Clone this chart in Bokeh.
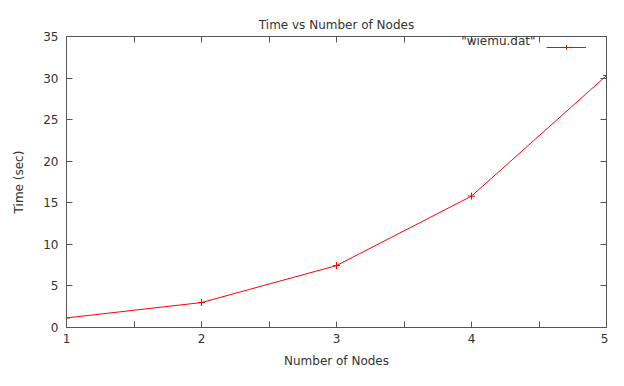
from bokeh.plotting import figure
from bokeh.models import (LinearAxis, FixedTicker, Range1d, Legend, LegendItem, Label,
                          CustomJSTickFormatter)
from bokeh.embed import file_html
from bokeh.resources import INLINE

nodes = [1, 2, 3, 4, 5]
times = [1.15, 3.0, 7.45, 15.8, 30.3]
x_ticks = [1, 2, 3, 4, 5]
x_minor = [1.5, 2.5, 3.5, 4.5]
y_ticks = [0, 5, 10, 15, 20, 25, 30, 35]

FONT = "DejaVu Sans"
TXT = "#333333"
AX = "#555555"

W, H = 540, 294
p = figure(width=608, height=370, output_backend="svg", toolbar_location=None,
           x_range=Range1d(1, 5), y_range=Range1d(0, 35),
           min_border_left=66, min_border_right=2, min_border_top=36, min_border_bottom=40,
           x_axis_location=None, y_axis_location=None)
p.title.text = "Time vs Number of Nodes"
p.title.align = "center"
p.title.text_font = FONT
p.title.text_font_style = "normal"
p.title.text_font_size = "12px"
p.title.text_color = TXT

p.xgrid.visible = False
p.ygrid.visible = False
p.outline_line_color = AX
p.outline_line_width = 1

blank = CustomJSTickFormatter(code="return ''")

def style(ax, labels=True):
    ax.axis_line_color = AX
    ax.major_tick_line_color = AX
    ax.minor_tick_line_color = AX
    ax.major_tick_in = 6
    ax.major_tick_out = 0
    ax.minor_tick_in = 6
    ax.minor_tick_out = 0
    ax.major_label_text_font = FONT
    ax.major_label_text_font_size = "12px"
    ax.major_label_text_color = TXT
    ax.axis_label_text_font = FONT
    ax.axis_label_text_font_size = "12px"
    ax.axis_label_text_font_style = "normal"
    ax.axis_label_text_color = TXT
    if not labels:
        ax.formatter = blank
        ax.major_label_standoff = 0

xb = LinearAxis(ticker=FixedTicker(ticks=x_ticks, minor_ticks=x_minor), axis_label="Number of Nodes")
style(xb)
xb.major_label_standoff = 6
xb.axis_label_standoff = 8
p.add_layout(xb, "below")

xt = LinearAxis(ticker=FixedTicker(ticks=x_ticks, minor_ticks=x_minor))
style(xt, labels=False)
p.add_layout(xt, "above")

yl = LinearAxis(ticker=FixedTicker(ticks=y_ticks, minor_ticks=[]), axis_label="Time (sec)")
style(yl)
yl.major_label_standoff = 8
yl.axis_label_standoff = 14
p.add_layout(yl, "left")

yr = LinearAxis(ticker=FixedTicker(ticks=y_ticks, minor_ticks=[]))
style(yr, labels=False)
p.add_layout(yr, "right")

ln = p.line(nodes, times, line_color="#ff0000", line_width=1)
mk = p.scatter(nodes, times, marker="cross", size=7, line_color="#ff0000", line_width=1)

leg = Legend(items=[LegendItem(label=" ", renderers=[ln, mk])], location="top_right",
             border_line_color=None, background_fill_alpha=0, glyph_width=40, glyph_height=12,
             label_width=15, label_standoff=0, label_text_font_size="12px",
             padding=0, margin=5, spacing=0)
p.add_layout(leg, "center")

p.add_layout(Label(x=W - 71, y=H - 7, x_units="screen", y_units="screen",
                   text='"wiemu.dat"', text_font=FONT, text_font_size="12px",
                   text_color=TXT, text_align="right", text_baseline="middle"))

open("out.html", "w").write(file_html(p, INLINE))
